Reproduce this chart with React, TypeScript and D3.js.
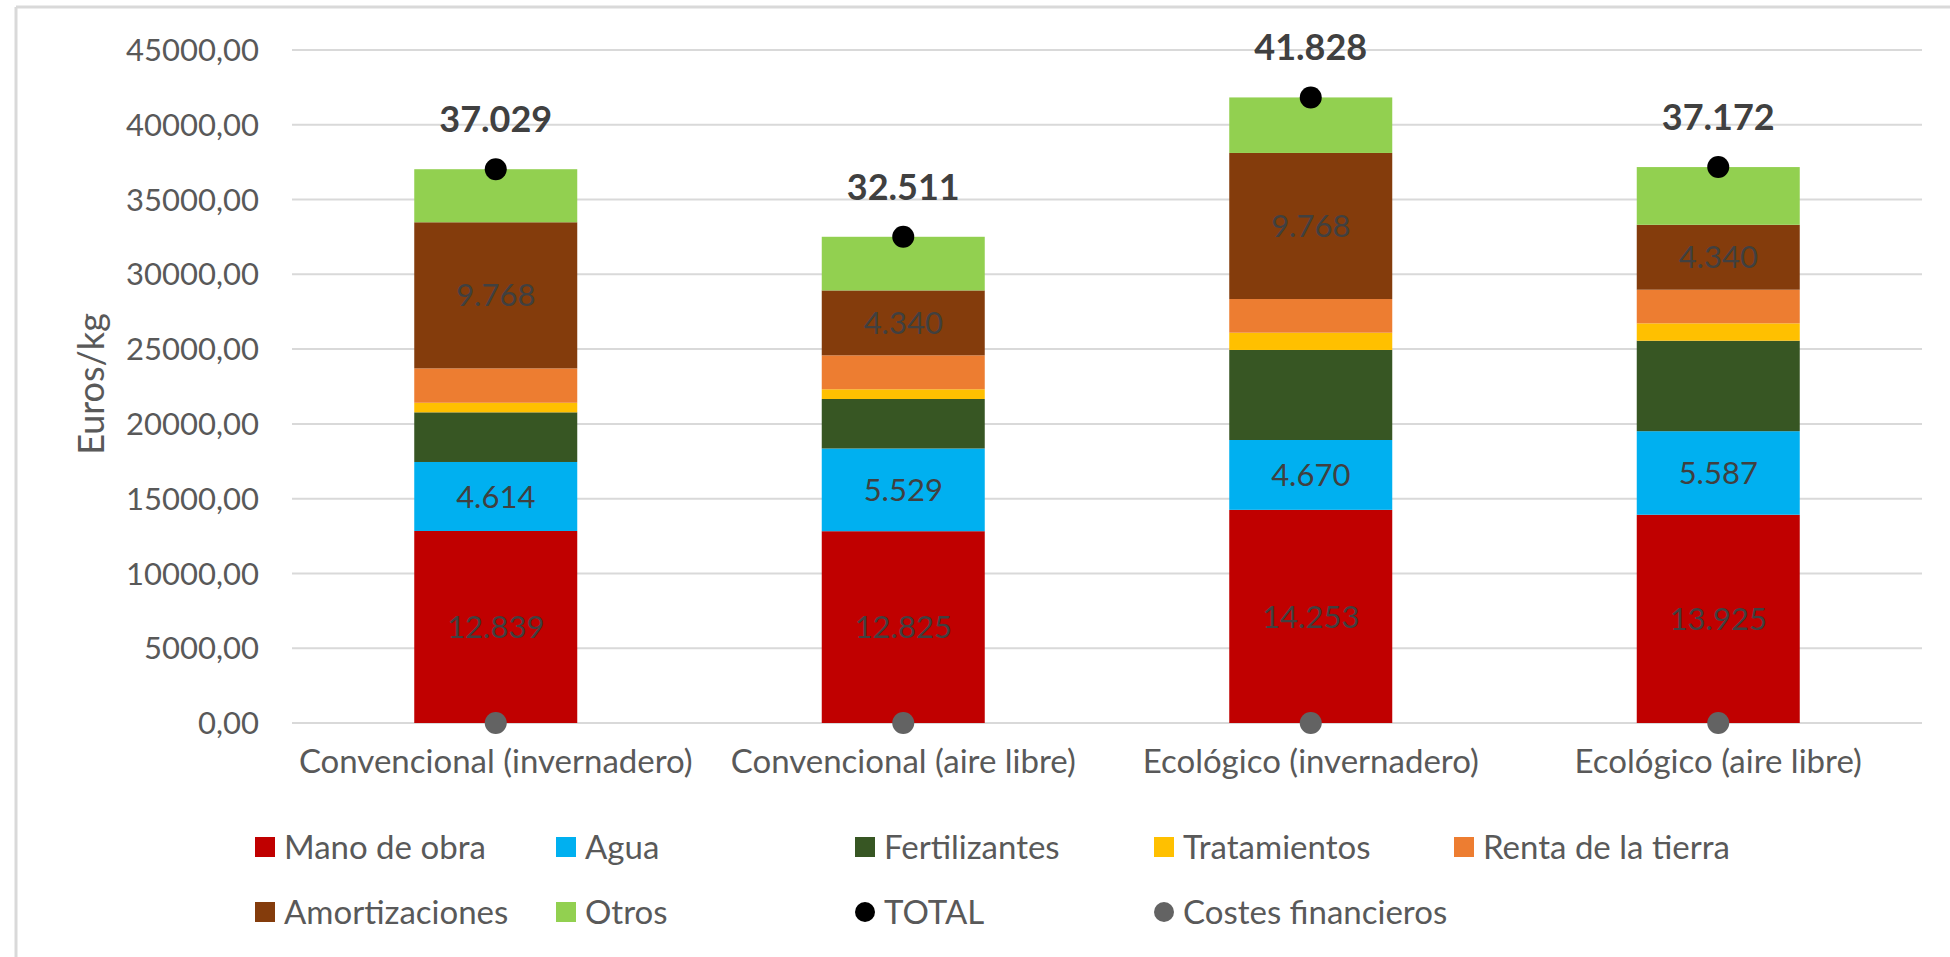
import React from 'react';
import * as d3 from 'd3';

const categories = [
  'Convencional (invernadero)',
  'Convencional (aire libre)',
  'Ecológico (invernadero)',
  'Ecológico (aire libre)',
];

const seriesNames = [
  'Mano de obra',
  'Agua',
  'Fertilizantes',
  'Tratamientos',
  'Renta de la tierra',
  'Amortizaciones',
  'Otros',
];

const manoDeObra = [12839, 12825, 14253, 13925];
const agua = [4614, 5529, 4670, 5587];
const fertilizantes = [3320, 3310, 6020, 6050];
const tratamientos = [640, 650, 1155, 1160];
const rentaTierra = [2300, 2270, 2250, 2250];
const amortizaciones = [9768, 4340, 9768, 4340];
const otros = [3548, 3587, 3712, 3860];
const total = [37029, 32511, 41828, 37172];
const costesFinancieros = [0, 0, 0, 0];

const yTicks = [0, 5000, 10000, 15000, 20000, 25000, 30000, 35000, 40000, 45000];

const colors = ['#C00000', '#00B0F0', '#375623', '#FFC000', '#ED7D31', '#843C0C', '#92D050'];
const labelled = ['Mano de obra', 'Agua', 'Amortizaciones'];

const W = 1950;
const H = 957;
const font = 'Lato, "Open Sans", sans-serif';

const es = d3.formatLocale({ decimal: ',', thousands: '.', grouping: [3], currency: ['', ''] });
const fmtTick = es.format('.2f');
const fmtVal = es.format(',.0f');

const App = () => {
  const seriesValues = [manoDeObra, agua, fertilizantes, tratamientos, rentaTierra, amortizaciones, otros];
  const rows = categories.map((c, i) => {
    const r: any = { cat: c };
    seriesNames.forEach((s, k) => (r[s] = seriesValues[k][i]));
    return r;
  });
  const stacked = d3.stack().keys(seriesNames)(rows);

  const x = d3.scaleBand().domain(categories).range([292, 1922]).paddingInner(0.6).paddingOuter(0.3);
  const y = d3.scaleLinear().domain([0, 45000]).range([723, 50]);
  const cx = (c: string) => (x(c) as number) + x.bandwidth() / 2;

  const legend = [
    { name: 'Mano de obra', color: colors[0], shape: 'rect' },
    { name: 'Agua', color: colors[1], shape: 'rect' },
    { name: 'Fertilizantes', color: colors[2], shape: 'rect' },
    { name: 'Tratamientos', color: colors[3], shape: 'rect' },
    { name: 'Renta de la tierra', color: colors[4], shape: 'rect' },
    { name: 'Amortizaciones', color: colors[5], shape: 'rect' },
    { name: 'Otros', color: colors[6], shape: 'rect' },
    { name: 'TOTAL', color: '#000000', shape: 'circle' },
    { name: 'Costes financieros', color: '#636363', shape: 'circle' },
  ];
  const legendX = [255, 556, 855, 1154, 1454];
  const legendY = [847, 912];

  return (
    <svg width={W} height={H} style={{ position: 'absolute', left: 0, top: 0, background: '#fff' }} fontFamily={font}>
      <line x1={16} x2={W} y1={7} y2={7} stroke="#D9D9D9" strokeWidth={3} />
      <line x1={16} x2={16} y1={7} y2={H} stroke="#D9D9D9" strokeWidth={3} />

      {yTicks.map(t => (
        <g key={t}>
          <line x1={292} x2={1922} y1={y(t)} y2={y(t)} stroke="#D9D9D9" strokeWidth={2} />
          <text x={259} y={y(t)} dy="0.36em" textAnchor="end" fontSize={31} fill="#595959">
            {fmtTick(t)}
          </text>
        </g>
      ))}

      <text transform={`translate(104,384) rotate(-90)`} textAnchor="middle" fontSize={36} fill="#595959">
        Euros/kg
      </text>

      {stacked.map((s, k) => (
        <g key={s.key} fill={colors[k]}>
          {s.map((d, i) => (
            <rect
              key={i}
              x={x(categories[i])}
              width={x.bandwidth()}
              y={y(d[1])}
              height={y(d[0]) - y(d[1])}
            />
          ))}
        </g>
      ))}

      {stacked
        .filter(s => labelled.includes(s.key))
        .map(s => (
          <g key={s.key}>
            {s.map((d, i) => (
              <text
                key={i}
                x={cx(categories[i])}
                y={y((d[0] + d[1]) / 2)}
                dy="0.36em"
                textAnchor="middle"
                fontSize={31}
                fill="#404040"
              >
                {fmtVal(d[1] - d[0])}
              </text>
            ))}
          </g>
        ))}

      {categories.map((c, i) => (
        <g key={c}>
          <circle cx={cx(c)} cy={y(costesFinancieros[i])} r={11} fill="#636363" />
          <circle cx={cx(c)} cy={y(total[i])} r={11} fill="#000" />
          <text x={cx(c)} y={y(total[i]) - 37} textAnchor="middle" fontSize={36} fontWeight="bold" fill="#404040">
            {fmtVal(total[i])}
          </text>
          <text x={cx(c)} y={773} textAnchor="middle" fontSize={33} fill="#595959">
            {c}
          </text>
        </g>
      ))}

      {legend.map((l, i) => {
        const lx = legendX[i % 5];
        const ly = legendY[Math.floor(i / 5)];
        return (
          <g key={l.name}>
            {l.shape === 'rect' ? (
              <rect x={lx} y={ly - 10} width={20} height={20} fill={l.color} />
            ) : (
              <circle cx={lx + 10} cy={ly} r={10} fill={l.color} />
            )}
            <text x={lx + 29} y={ly} dy="0.36em" fontSize={33} fill="#595959">
              {l.name}
            </text>
          </g>
        );
      })}
    </svg>
  );
};

export default App;
